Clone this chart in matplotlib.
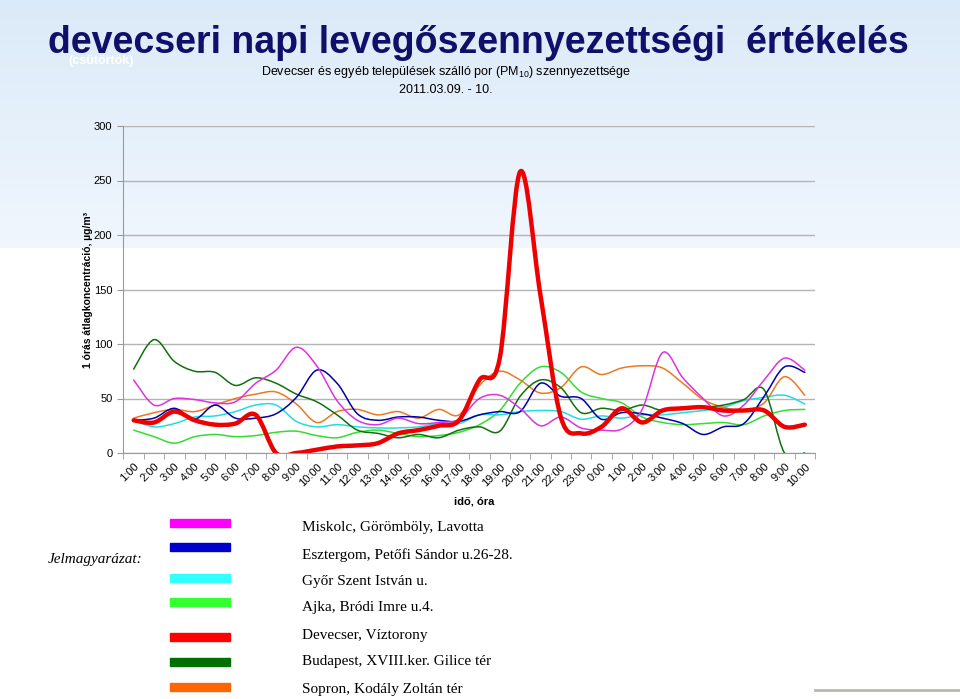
import numpy as np
import matplotlib
matplotlib.use('Agg')
import matplotlib.pyplot as plt
from matplotlib.path import Path
from matplotlib.patches import PathPatch, Rectangle
from matplotlib.lines import Line2D

plt.rcParams['font.family'] = ['Liberation Sans', 'DejaVu Sans']
plt.rcParams['mathtext.fontset'] = 'custom'
plt.rcParams['mathtext.rm'] = 'Liberation Sans'
plt.rcParams['mathtext.bf'] = 'Liberation Sans:bold'

# Adatok (1 órás átlagok, µg/m3)
hours = ['1:00', '2:00', '3:00', '4:00', '5:00', '6:00', '7:00', '8:00', '9:00', '10:00',
         '11:00', '12:00', '13:00', '14:00', '15:00', '16:00', '17:00', '18:00', '19:00',
         '20:00', '21:00', '22:00', '23:00', '0:00', '1:00', '2:00', '3:00', '4:00',
         '5:00', '6:00', '7:00', '8:00', '9:00', '10:00']

miskolc = [67, 44, 50, 49, 46, 47, 64, 76, 97, 80, 48, 30, 26, 32, 27, 28, 31, 50, 53, 41,
           25, 33, 23, 21, 22, 40, 92, 69, 50, 34, 44, 67, 87, 76]
esztergom = [30, 32, 41, 31, 44, 32, 32, 36, 51, 76, 64, 36, 30, 33, 33, 30, 29, 35, 38, 38,
             64, 52, 50, 31, 37, 36, 32, 27, 17, 24, 27, 52, 79, 74]
gyor = [30, 24, 27, 33, 34, 38, 44, 44, 29, 24, 26, 24, 23, 23, 24, 27, 27, 35, 35, 38,
        39, 38, 31, 34, 32, 35, 35, 37, 39, 42, 48, 51, 53, 45]
ajka = [21, 15, 9, 15, 17, 15, 16, 19, 20, 16, 14, 19, 21, 18, 15, 16, 19, 26, 39, 64,
        79, 74, 56, 50, 46, 33, 28, 26, 27, 28, 26, 34, 39, 40]
devecser = [30, 28, 38, 30, 26, 27, 35, 0, 0, 3, 6, 7, 9, 18, 21, 25, 30, 67, 87, 258,
            145, 33, 18, 24, 41, 28, 39, 41, 42, 39, 39, 39, 24, 26]
budapest = [77, 104, 84, 75, 74, 62, 69, 64, 54, 47, 35, 21, 18, 14, 17, 14, 21, 24, 20, 52,
            67, 60, 37, 41, 39, 44, 39, 42, 42, 44, 49, 58, 0, 0]
sopron = [32, 37, 40, 38, 44, 50, 54, 56, 45, 28, 38, 40, 35, 38, 32, 40, 35, 62, 75, 67,
          55, 60, 79, 72, 78, 80, 78, 64, 49, 42, 39, 46, 70, 53]

names = ['Miskolc, Görömböly, Lavotta', 'Esztergom, Petőfi Sándor u.26-28.',
         'Győr Szent István u.', 'Ajka, Bródi Imre u.4.', 'Devecser, Víztorony',
         'Budapest, XVIII.ker. Gilice tér', 'Sopron, Kodály Zoltán tér']
legend_colors = ['#ff00ff', '#0000cc', '#33ffff', '#33ff33', '#ff0000', '#007000', '#ff6600']


def smooth_path(vals):
    # Excel-szerű simított vonal (Bezier szakaszok a pontok között)
    x = np.arange(len(vals), dtype=float)
    y = np.asarray(vals, dtype=float)
    n = len(y)
    verts = [(x[0], y[0])]
    codes = [Path.MOVETO]
    for i in range(n - 1):
        a = max(i - 1, 0)
        b = min(i + 2, n - 1)
        c1 = (x[i] + (x[i + 1] - x[a]) / 6, y[i] + (y[i + 1] - y[a]) / 6)
        c2 = (x[i + 1] - (x[b] - x[i]) / 6, y[i + 1] - (y[b] - y[i]) / 6)
        verts += [c1, c2, (x[i + 1], y[i + 1])]
        codes += [Path.CURVE4] * 3
    return Path(verts, codes)


W, H = 960, 699
fig = plt.figure(figsize=(W / 100, H / 100), dpi=100)
fig.patch.set_facecolor('white')

# háttér színátmenet
bg = fig.add_axes([0, 0, 1, 1], zorder=-10)
bg.axis('off')
grad = np.linspace(0, 1, 100).reshape(-1, 1)
top = np.array([0.86, 0.918, 0.975])
bot = np.array([0.94, 0.966, 0.994])
img = top[None, None, :] * (1 - grad[:, :, None]) + bot[None, None, :] * grad[:, :, None]
bg.imshow(img, extent=[0, 1, 1 - 248 / H, 1], aspect='auto')
bg.set_xlim(0, 1)
bg.set_ylim(0, 1)

ax = fig.add_axes([123.5 / W, 1 - 453 / H, (815 - 123.5) / W, (453 - 126) / H])
ax.set_facecolor('none')
ax.set_xlim(-0.5, len(hours) - 0.5)
ax.set_ylim(0, 300)
ax.set_yticks(range(0, 301, 50))
ax.yaxis.grid(True, color='#b4b4b4', lw=1)
ax.set_axisbelow(True)
for s in ['top', 'right']:
    ax.spines[s].set_visible(False)
ax.spines['left'].set_color('#9a9a9a')
ax.spines['bottom'].set_color('#9a9a9a')
ax.set_xticks(np.arange(len(hours)))
ax.set_xticklabels(hours, rotation=45, ha='right', rotation_mode='anchor', fontsize=8)
ax.set_xticks(np.arange(-0.5, len(hours), 1), minor=True)
ax.tick_params(axis='x', which='major', length=0, pad=6)
ax.tick_params(axis='x', which='minor', length=4, color='#9a9a9a')
ax.tick_params(axis='y', length=4, color='#9a9a9a', labelsize=8, pad=4)

series = [(ajka, '#33dd33', 1.1), (gyor, '#22dddd', 1.1), (sopron, '#ee7722', 1.1),
          (budapest, '#107010', 1.1), (esztergom, '#0000aa', 1.1), (miskolc, '#dd33dd', 1.1),
          (devecser, '#ee0000', 3.2)]
for vals, c, lw in series:
    ax.add_patch(PathPatch(smooth_path(vals), fill=False, edgecolor=c, lw=lw,
                           capstyle='round', joinstyle='round'))

# feliratok
fig.text(68 / W, 1 - 61 / H, '(csütörtök)', color='white', fontsize=9, fontweight='bold',
         va='center', ha='left', zorder=1)
fig.text(478 / W, 1 - 53 / H, 'devecseri napi levegőszennyezettségi  értékelés',
         ha='center', va='baseline', fontsize=27, fontweight='bold', color='#10106a', zorder=2)
fig.text(446 / W, 1 - 72 / H,
         r'Devecser és egyéb települések szálló por (PM$_{\mathrm{10}}$) szennyezettsége',
         ha='center', va='center', fontsize=9)
fig.text(446 / W, 1 - 90 / H, '2011.03.09. - 10.', ha='center', va='center', fontsize=9)
fig.text(88 / W, 1 - 290 / H, '1 órás átlagkoncentráció, µg/m³', rotation=90,
         ha='center', va='center', fontsize=7.5, fontweight='bold')
fig.text(474 / W, 1 - 501 / H, 'idő, óra', ha='center', va='center', fontsize=8,
         fontweight='bold')

# jelmagyarázat
patch_y = [523, 547, 578, 602, 637, 662, 687]
text_y = [528, 555, 581, 608, 636, 662, 689]
for name, c, py, ty in zip(names, legend_colors, patch_y, text_y):
    fig.add_artist(Rectangle((170 / W, 1 - (py + 4) / H), 60 / W, 8 / H,
                             transform=fig.transFigure, color=c))
    fig.text(302 / W, 1 - ty / H, name, ha='left', va='center', fontsize=11,
             family=['Liberation Serif', 'DejaVu Serif'])
fig.text(48 / W, 1 - 560 / H, 'Jelmagyarázat:', ha='left', va='center', fontsize=11,
         style='italic', family=['Liberation Serif', 'DejaVu Serif'])

fig.add_artist(Line2D([815 / W, 1], [1 - 690 / H] * 2, transform=fig.transFigure,
                      color='#b8b8b0', lw=2))

fig.savefig('out.png', dpi=100)
